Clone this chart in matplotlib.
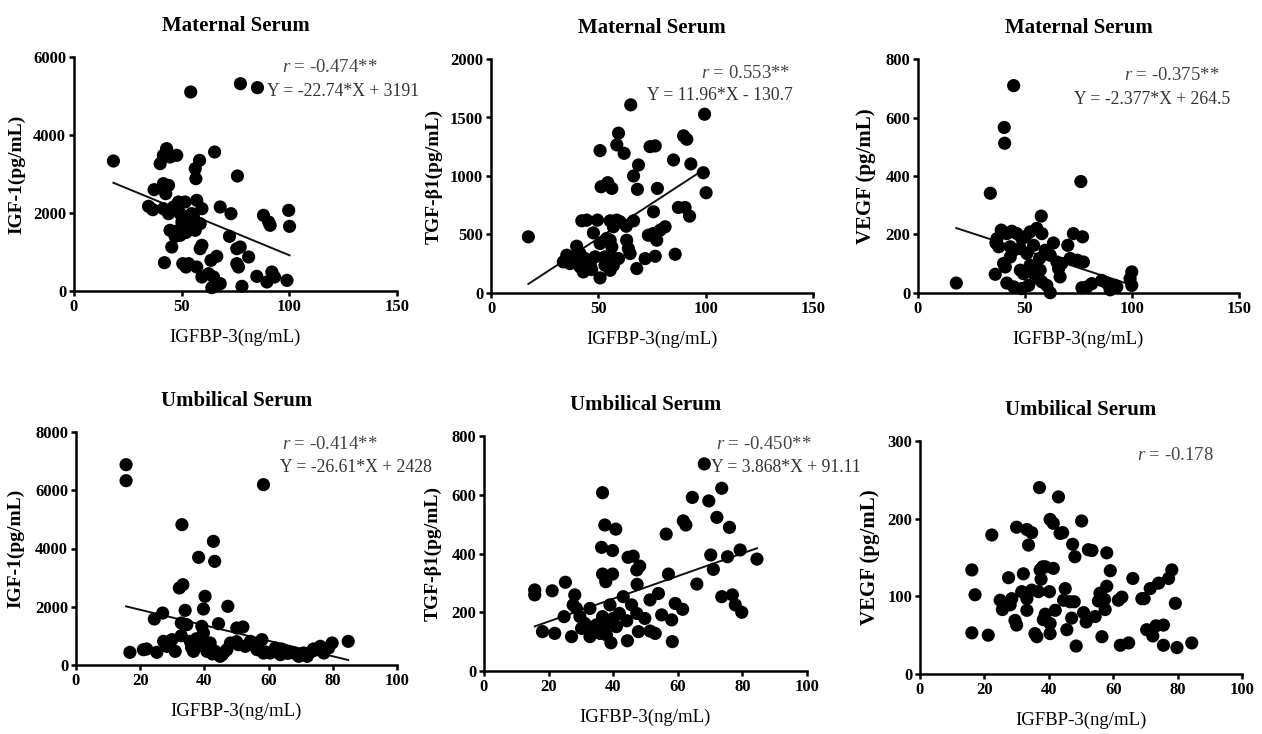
import matplotlib
matplotlib.use("Agg")
import matplotlib.pyplot as plt
import numpy as np

plt.rcParams['font.family'] = ['Liberation Serif', 'DejaVu Serif']
plt.rcParams['mathtext.fontset'] = 'custom'
plt.rcParams['mathtext.it'] = 'Liberation Serif:italic'
plt.rcParams['mathtext.rm'] = 'Liberation Serif'

# ---- data ----
# maternal serum, IGF-1
ms_igf_x = [18.3, 54.2, 77.3, 85.2, 65.3, 75.9, 40, 41.5, 43, 44.6, 47.7, 56.3, 56.6, 58.3,
            37.2, 41.5, 43.9, 42.6, 34.6, 36.6, 41.5, 43.9, 46.2, 48.5, 51.6, 49.3, 54.7, 57,
            59.4, 67.9, 72.9, 88, 90.4, 91.1, 99.7, 100.1, 44.6, 48.5, 50.1, 51.6, 54.7, 56.3,
            58.6, 45.4, 49.3, 58.6, 59.4, 72.2, 75.6, 77.2, 81.1, 63.6, 66.3, 75.6, 76.4, 42,
            50.5, 52, 53.2, 57, 59.4, 62.5, 64.8, 65.6, 67.9, 64, 78, 84.9, 89.6, 91.9, 93.1, 98.9,
            53.5, 55.5, 47, 52]
ms_igf_y = [3333, 5103, 5316, 5214, 3564, 2949, 3265, 3479, 3650, 3436, 3479, 3137, 2880, 3350,
            2598, 2752, 2709, 2496, 2171, 2085, 2111, 1983, 2154, 2282, 2282, 1983, 1983, 2325,
            2111, 2154, 1983, 1940, 1769, 1684, 2068, 1658, 1556, 1556, 1769, 1641, 1726, 1556,
            1726, 1128, 1427, 1085, 1171, 1402, 1085, 1128, 872, 786, 889, 701, 615, 726,
            701, 615, 701, 615, 359, 444, 359, 120, 188, 85, 120, 376, 231, 487, 359, 273,
            1850, 1900, 1400, 1500]

# maternal serum, TGF-b1
ms_tgf_x = [17.4, 65.1, 99.5, 59.4, 58.6, 62, 50.8, 74.1, 76.5, 89.7, 91.2, 68.7, 66.4, 85,
            93.1, 98.9, 100.2, 51.3, 54.4, 56.3, 68.2, 77.5, 87.3, 90.4, 92.5, 75.7, 42.3, 44.6,
            49.6, 55.5, 57, 58.6, 60.1, 63, 66.4, 73.3, 77.2, 78.8, 81.1, 75.7, 85.8, 71.8, 76.5,
            67.9, 63.2, 64, 64.8, 47.7, 50.8, 53.9, 55.5, 56.3, 39.9, 35.3, 38.4, 41.5, 43.8,
            46.2, 48.5, 53.1, 57.8, 41.5, 43, 44.6, 46.9, 50.8, 53.1, 55.5, 57, 59.4, 33.7, 36.8]
ms_tgf_y = [480, 1608, 1528, 1366, 1266, 1194, 1217, 1251, 1257, 1343, 1314, 1094, 1000, 1137,
            1103, 1028, 857, 908, 943, 894, 886, 894, 731, 731, 657, 694, 617, 623,
            623, 617, 566, 623, 609, 571, 617, 494, 451, 537, 566, 509, 331, 294, 314,
            209, 451, 380, 337, 514, 423, 466, 451, 394, 400, 323, 309, 337, 294,
            251, 309, 309, 294, 223, 180, 223, 200, 129, 237, 194, 237, 294, 266, 251]

# maternal serum, VEGF
ms_vegf_x = [17.9, 44.7, 40.3, 40.5, 33.8, 76.1, 57.6, 36.4, 36.9, 38.9, 41.5, 43.8, 46.2, 48.5,
             50.1, 52.4, 55.5, 57.9, 63.3, 70, 72.6, 76.9, 37.7, 43.1, 44.7, 47.8, 50.9, 54,
             59.4, 61.8, 43.1, 40, 40.8, 64.9, 67.2, 71.1, 74.5, 77.3, 56.8, 52.4, 54.8, 49.3,
             47.8, 54, 56.3, 57.9, 60.2, 61.8, 36.1, 41.5, 44.7, 48.5, 51.7, 57.1, 65.7, 66.4,
             76.6, 79, 81.2, 85.9, 88.2, 89.8, 92.1, 92.9, 99.9, 99.1, 99.9]
ms_vegf_y = [34, 709, 566, 512, 341, 381, 263, 171, 186, 215, 203, 211, 203, 186,
             192, 209, 221, 203, 171, 163, 203, 192, 158, 158, 146, 152, 135, 163,
             146, 129, 123, 101, 89, 106, 101, 118, 112, 106, 118, 95, 89, 66,
             78, 66, 49, 38, 26, 1, 64, 34, 21, 15, 26, 78, 83, 55,
             18, 21, 32, 43, 34, 11, 26, 21, 72, 49, 26]

# umbilical serum, IGF-1
us_igf_x = [15.6, 15.6, 58.4, 33, 42.8, 43.2, 38.2, 32.2, 33.3, 40.2, 39.7, 34, 47.3, 27, 24.4,
            32.8, 34.5, 39.2, 44.4, 50.1, 52, 32.8, 16.8, 21, 22, 25.2, 27.3, 28.3, 29.9, 30.9,
            35.6, 36.6, 37.7, 38.7, 39.7, 40.8, 41.8, 43.4, 44.9, 45.9, 47, 48.1, 50.6, 52.7,
            54.3, 56.4, 57.9, 58.4, 60.5, 62.1, 63.7, 65.7, 67.8, 69.4, 70.9, 72, 73.5, 75.1,
            76.1, 77.2, 78.7, 79.8, 84.8,
            36, 37.5, 41, 42.5, 45.5, 50, 55, 59, 64, 66, 71, 74, 76.5]
us_igf_y = [6878, 6329, 6192, 4818, 4246, 3559, 3697, 2644, 2758, 2358, 1923, 1877, 2014, 1785, 1579,
            1442, 1385, 1328, 1419, 1270, 1305, 1007, 435, 526, 549, 435, 812, 641, 870, 469,
            812, 469, 641, 870, 1099, 469, 755, 469, 298, 412, 526, 755, 698, 641,
            812, 526, 870, 412, 412, 584, 355, 469, 412, 298, 412, 298, 469, 526,
            641, 412, 584, 755, 812,
            600, 900, 600, 380, 350, 800, 700, 450, 550, 400, 350, 550, 500]

# umbilical serum, TGF-b1
us_tgf_x = [15.7, 15.7, 18.1, 21.1, 21.9, 25.2, 24.8, 27.1, 28.1, 27.6, 28.6, 29.7, 30.2, 31.2,
            32.8, 32.8, 33.8, 34.8, 35.9, 36.7, 37.4, 40.8, 36.4, 39.8, 36.7, 37.7, 39.8, 36.7,
            38.5, 39, 40, 41, 36.7, 37.9, 39.3, 41.9, 43.1, 44.2, 45.7, 47.3, 44.4, 44.6, 46.2,
            47.3, 48.2, 47.4, 47.8, 49.8, 51.4, 51.4, 53, 54, 55, 56.4, 57.1, 58.1, 58.3, 59.2,
            61.5, 61.7, 62.5, 64.5, 65.9, 68.2, 69.6, 70.2, 71, 72.1, 73.6, 73.6, 76, 75.4,
            76.9, 77.8, 79.8, 79.3, 84.5]
us_tgf_y = [276, 259, 134, 273, 128, 302, 185, 117, 259, 225, 213, 185, 145, 162,
            213, 117, 140, 157, 128, 607, 497, 483, 421, 410, 330, 304, 330, 185,
            162, 225, 179, 151, 140, 123, 96, 196, 253, 171, 225, 196, 103, 387, 391,
            344, 357, 295, 134, 179, 242, 136, 128, 264, 191, 466, 330, 174, 100, 230,
            210, 511, 497, 591, 296, 705, 579, 395, 346, 523, 622, 253, 489, 389,
            259, 225, 200, 412, 381]

# umbilical serum, VEGF
us_vegf_x = [16.1, 16.1, 17.1, 21.2, 22.3, 24.9, 25.6, 27.5, 28, 28.5, 29.5, 30, 30, 31.6, 32.1,
             33.2, 33.2, 33.2, 34.7, 33.7, 34.7, 35.7, 36.3, 36.8, 37.1, 37.3, 37.6, 38.1, 38.9,
             38.3, 38.9, 40.2, 40.4, 40.4, 40.4, 41.4, 41.4, 42, 43, 43.5, 44.3, 44.6, 45.1,
             45.6, 46.6, 47.1, 47.4, 47.9, 48.1, 48.5, 50.2, 50.8, 51.6, 52.3, 53.4, 54.4, 55.4,
             55.9, 56.5, 57.3, 57.5, 58, 58, 59.1, 61.6, 62.2, 62.7, 64.8, 66.1, 68.9, 69.6,
             70.4, 71.5, 72.3, 73.3, 74.1, 75.6, 75.6, 77.2, 78.2, 79.3, 79.8, 84.4]
us_vegf_y = [134, 53, 102, 50, 179, 95, 83, 124, 89, 97, 69, 63, 189, 106, 129,
             97, 82, 186, 182, 166, 108, 52, 48, 106, 240, 134, 122, 138, 138,
             70, 77, 106, 65, 52, 199, 194, 136, 82, 228, 181, 182, 95, 110,
             57, 93, 72, 167, 93, 151, 36, 197, 79, 67, 160, 159, 74, 94,
             104, 48, 96, 83, 156, 113, 133, 95, 37, 99, 40, 123, 97, 97,
             57, 110, 49, 62, 117, 63, 37, 123, 134, 91, 34, 40]

titles = ['Maternal Serum'] * 3 + ['Umbilical Serum'] * 3
ylabels = ['IGF-1(pg/mL)', 'TGF-\u03b21(pg/mL)', 'VEGF (pg/mL)'] * 2
xlabel = 'IGFBP-3(ng/mL)'
xticks_top = [0, 50, 100, 150]
xticks_bottom = [0, 20, 40, 60, 80, 100]
yticks = [[0, 2000, 4000, 6000], [0, 500, 1000, 1500, 2000], [0, 200, 400, 600, 800],
          [0, 2000, 4000, 6000, 8000], [0, 200, 400, 600, 800], [0, 100, 200, 300]]
slopes = [-22.74, 11.96, -2.377, -26.61, 3.868, None]
intercepts = [3191, -130.7, 264.5, 2428, 91.11, None]
r_texts = ['= -0.474**', '= 0.553**', '= -0.375**', '= -0.414**', '= -0.450**', '= -0.178']
eq_texts = ['Y = -22.74*X + 3191', 'Y = 11.96*X - 130.7', 'Y = -2.377*X + 264.5',
            'Y = -26.61*X + 2428', 'Y = 3.868*X + 91.11', None]

xs = [ms_igf_x, ms_tgf_x, ms_vegf_x, us_igf_x, us_tgf_x, us_vegf_x]
ys = [ms_igf_y, ms_tgf_y, ms_vegf_y, us_igf_y, us_tgf_y, us_vegf_y]

W, H = 1262, 734
# axes boxes in pixels: left, right, top, bottom
boxes = [(74, 397, 57, 291), (491, 813, 59, 293), (918, 1239, 59, 293),
         (76, 397, 432, 665), (484, 807, 436, 671), (920, 1242, 441, 674)]
ylab_x = [-0.152, -0.149, -0.132, -0.162, -0.130, -0.124]
ylab_size = [14, 14, 15, 14, 14, 15]
# annotation centres in pixels
r_pos = [(330, 68), (746, 74), (1172, 75), (330, 444), (764, 444), (1175, 455)]
eq_pos = [(343, 91), (720, 95), (1152, 100), (356, 467), (786, 467), None]

fig = plt.figure(figsize=(W / 100, H / 100), dpi=100)

for i in range(6):
    l, r, t, b = boxes[i]
    ax = fig.add_axes([l / W, 1 - b / H, (r - l) / W, (b - t) / H])
    x = np.array(xs[i])
    y = np.array(ys[i])
    ax.scatter(x, y, s=90, color='black', edgecolors='none', clip_on=False, zorder=3)
    if slopes[i] is not None:
        xl = np.array([x.min(), x.max()])
        ax.plot(xl, slopes[i] * xl + intercepts[i], color='#111111', lw=1.4, zorder=2)

    xt = xticks_top if i < 3 else xticks_bottom
    ax.set_xlim(xt[0], xt[-1])
    ax.set_ylim(yticks[i][0], yticks[i][-1])
    ax.set_xticks(xt)
    ax.set_yticks(yticks[i])
    for s in ['top', 'right']:
        ax.spines[s].set_visible(False)
    for s in ['left', 'bottom']:
        ax.spines[s].set_linewidth(1.8)
    ax.tick_params(direction='out', length=3.6, width=1.8, labelsize=12, pad=2)
    for lab in ax.get_xticklabels() + ax.get_yticklabels():
        lab.set_fontweight('bold')

    ax.set_title(titles[i], fontsize=15, fontweight='bold', pad=19)
    ax.set_ylabel(ylabels[i], fontsize=ylab_size[i], fontweight='bold')
    ax.yaxis.set_label_coords(ylab_x[i], 0.5)
    ax.set_xlabel(xlabel, fontsize=13.5)
    ax.xaxis.set_label_coords(0.5, -0.16)

    rx, ry = r_pos[i]
    fig.text(rx / W, 1 - ry / H, r'$\it{r}$ ' + r_texts[i], fontsize=13.5, color='#444444',
             ha='center', va='center')
    if eq_pos[i] is not None:
        ex, ey = eq_pos[i]
        fig.text(ex / W, 1 - ey / H, eq_texts[i], fontsize=12.7, color='#333333',
                 ha='center', va='center')

fig.savefig('out.png', dpi=100)
